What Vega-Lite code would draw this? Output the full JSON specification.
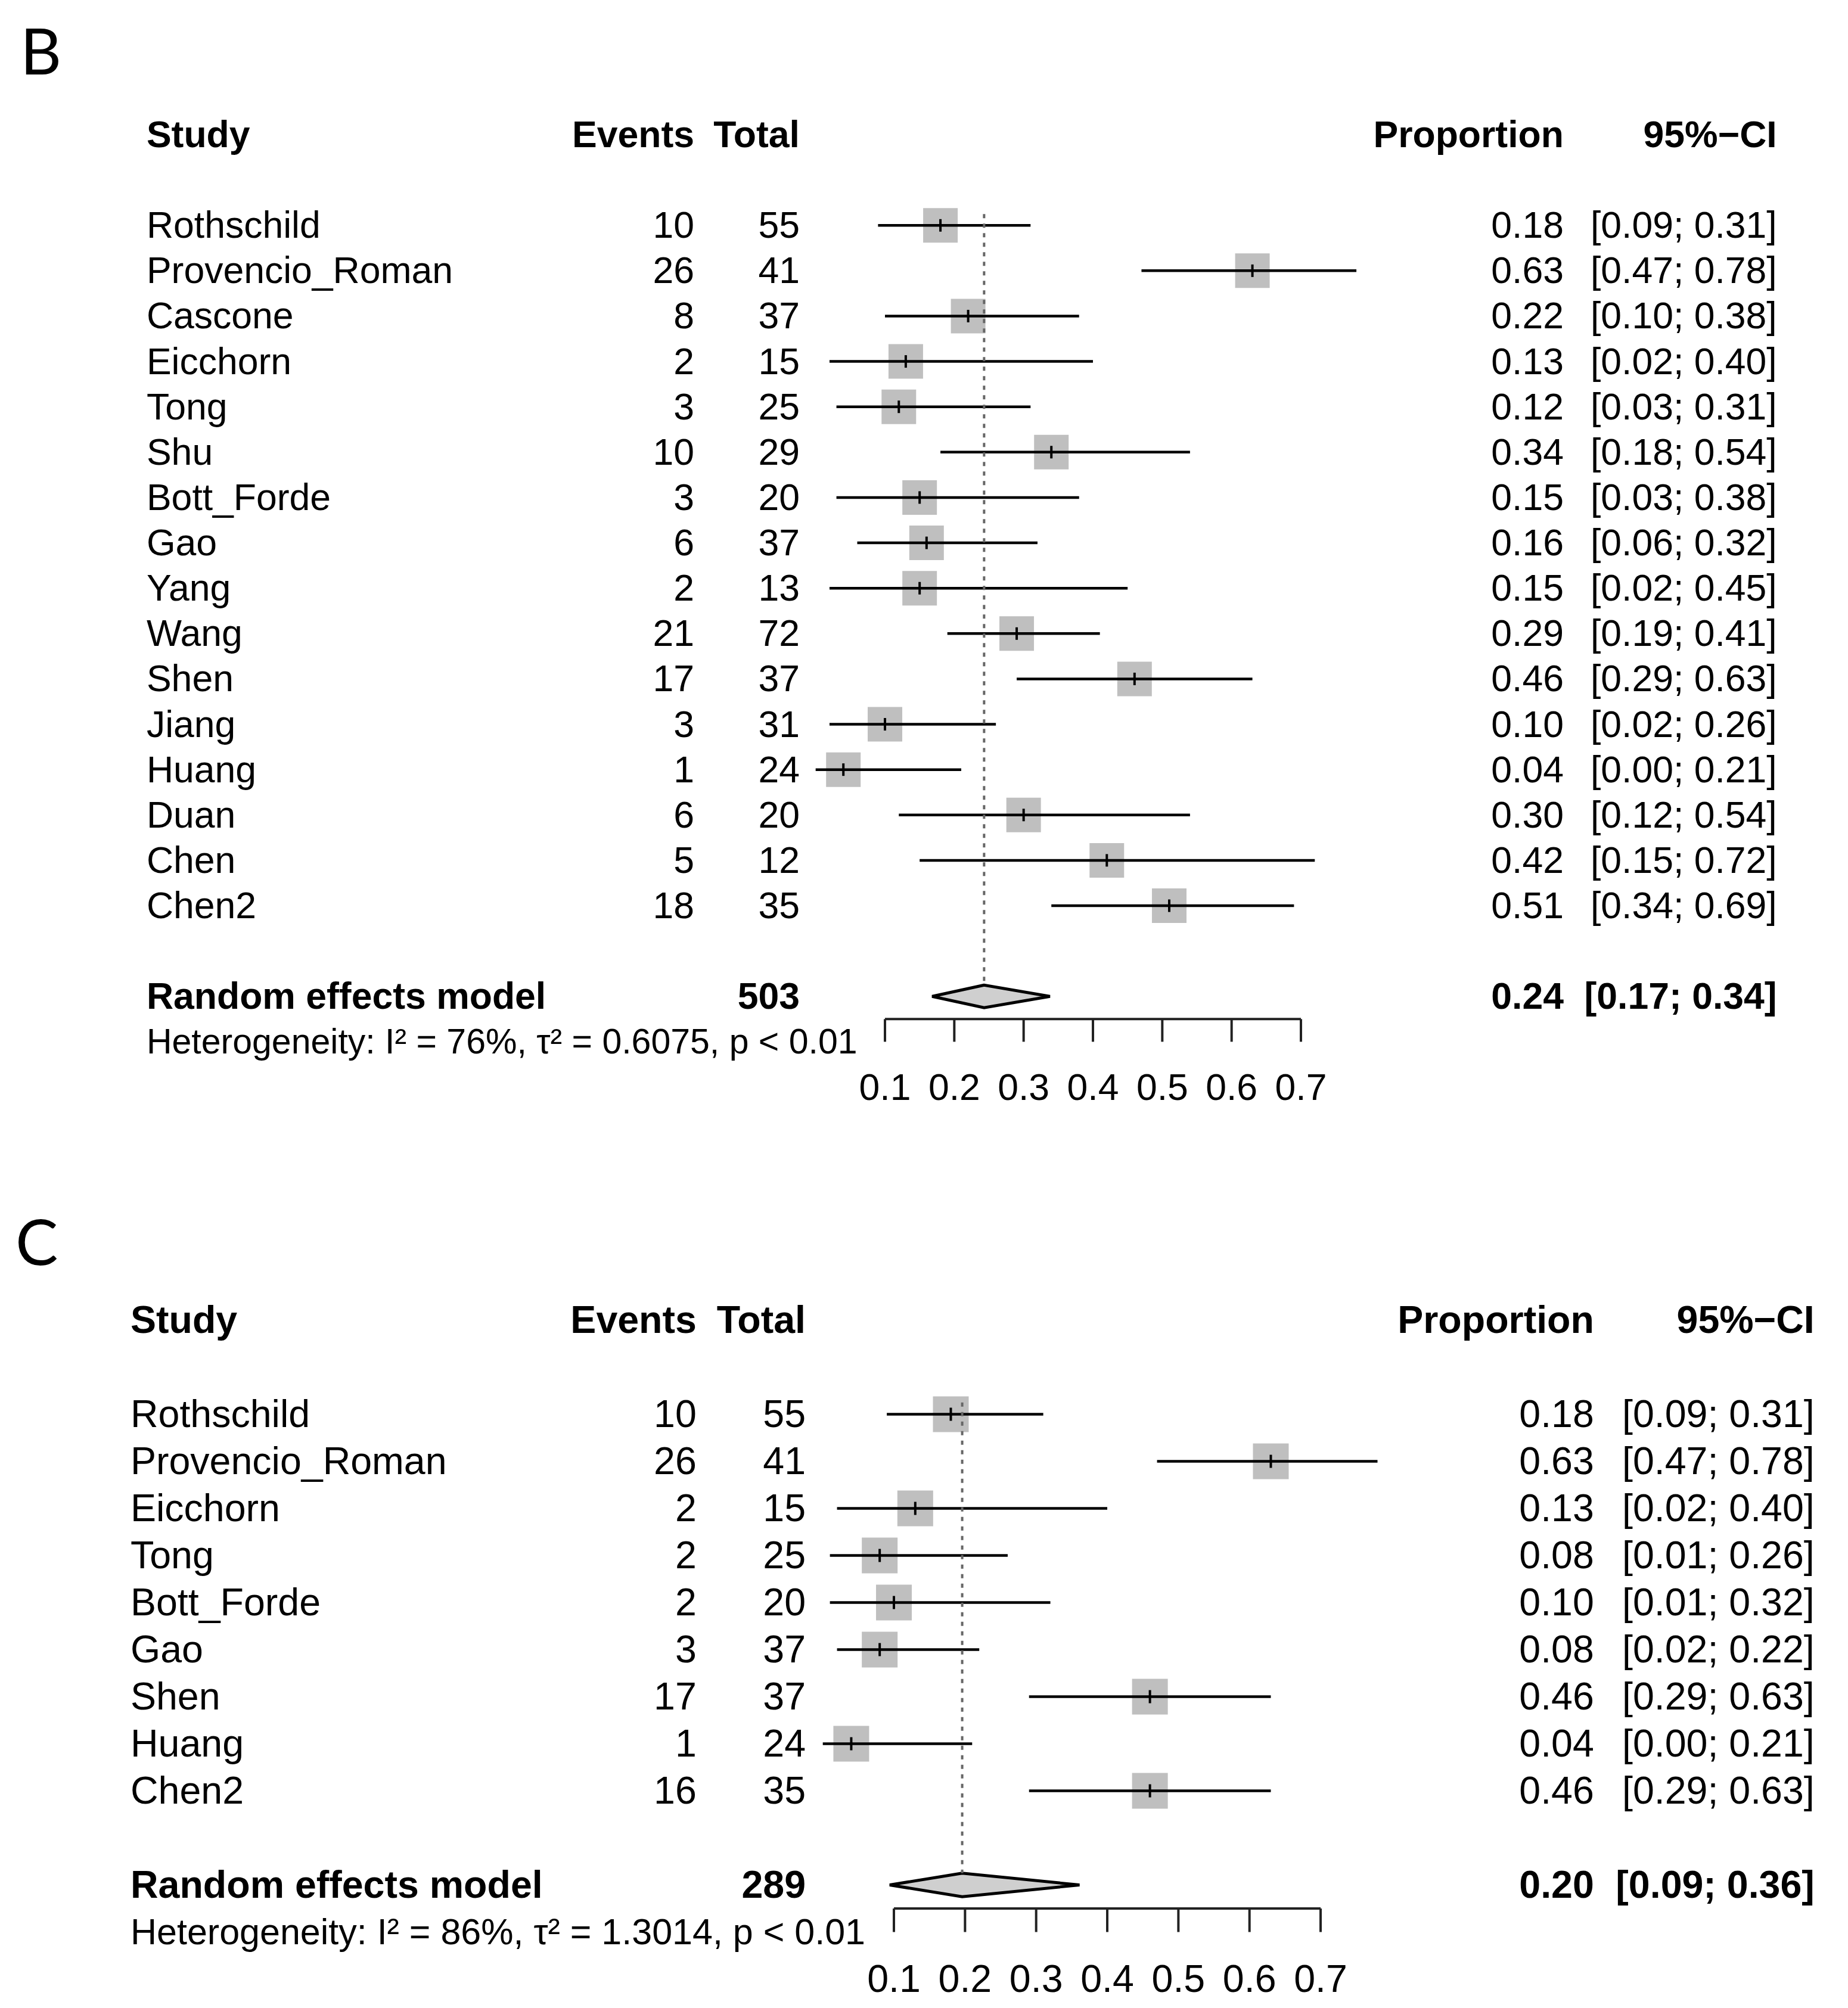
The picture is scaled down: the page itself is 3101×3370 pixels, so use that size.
{
  "$schema": "https://vega.github.io/schema/vega-lite/v6.json",
  "background": "white",
  "padding": 0,
  "spacing": 0,
  "bounds": "flush",
  "config": {"view": {"stroke": null}, "text": {"font": "Liberation Sans", "color": "black"}},
  "datasets": {
    "headers": [{"study": "Study", "events": "Events", "total": "Total", "prop": "Proportion", "ci": "95%−CI"}],
    "ticks": [{"v": 0.1}, {"v": 0.2}, {"v": 0.3}, {"v": 0.4}, {"v": 0.5}, {"v": 0.6}, {"v": 0.7}],
    "B_studies": [
      {"study": "Rothschild", "events": 10, "total": 55, "est": 0.18, "lo": 0.09, "hi": 0.31, "ci": "[0.09; 0.31]"},
      {"study": "Provencio_Roman", "events": 26, "total": 41, "est": 0.63, "lo": 0.47, "hi": 0.78, "ci": "[0.47; 0.78]"},
      {"study": "Cascone", "events": 8, "total": 37, "est": 0.22, "lo": 0.10, "hi": 0.38, "ci": "[0.10; 0.38]"},
      {"study": "Eicchorn", "events": 2, "total": 15, "est": 0.13, "lo": 0.02, "hi": 0.40, "ci": "[0.02; 0.40]"},
      {"study": "Tong", "events": 3, "total": 25, "est": 0.12, "lo": 0.03, "hi": 0.31, "ci": "[0.03; 0.31]"},
      {"study": "Shu", "events": 10, "total": 29, "est": 0.34, "lo": 0.18, "hi": 0.54, "ci": "[0.18; 0.54]"},
      {"study": "Bott_Forde", "events": 3, "total": 20, "est": 0.15, "lo": 0.03, "hi": 0.38, "ci": "[0.03; 0.38]"},
      {"study": "Gao", "events": 6, "total": 37, "est": 0.16, "lo": 0.06, "hi": 0.32, "ci": "[0.06; 0.32]"},
      {"study": "Yang", "events": 2, "total": 13, "est": 0.15, "lo": 0.02, "hi": 0.45, "ci": "[0.02; 0.45]"},
      {"study": "Wang", "events": 21, "total": 72, "est": 0.29, "lo": 0.19, "hi": 0.41, "ci": "[0.19; 0.41]"},
      {"study": "Shen", "events": 17, "total": 37, "est": 0.46, "lo": 0.29, "hi": 0.63, "ci": "[0.29; 0.63]"},
      {"study": "Jiang", "events": 3, "total": 31, "est": 0.10, "lo": 0.02, "hi": 0.26, "ci": "[0.02; 0.26]"},
      {"study": "Huang", "events": 1, "total": 24, "est": 0.04, "lo": 0.00, "hi": 0.21, "ci": "[0.00; 0.21]"},
      {"study": "Duan", "events": 6, "total": 20, "est": 0.30, "lo": 0.12, "hi": 0.54, "ci": "[0.12; 0.54]"},
      {"study": "Chen", "events": 5, "total": 12, "est": 0.42, "lo": 0.15, "hi": 0.72, "ci": "[0.15; 0.72]"},
      {"study": "Chen2", "events": 18, "total": 35, "est": 0.51, "lo": 0.34, "hi": 0.69, "ci": "[0.34; 0.69]"}
    ],
    "B_pool": [{"panel": "B", "label": "Random effects model", "total": 503, "est": 0.243, "lo": 0.168, "hi": 0.338, "ci": "[0.17; 0.34]", "het": "Heterogeneity: I² = 76%, τ² = 0.6075, p < 0.01"}],
    "B_diamond": [{"lev": "dtop", "lo": 0.243, "hi": 0.243}, {"lev": "model", "lo": 0.168, "hi": 0.338}, {"lev": "dbot", "lo": 0.243, "hi": 0.243}],
    "C_studies": [
      {"study": "Rothschild", "events": 10, "total": 55, "est": 0.18, "lo": 0.09, "hi": 0.31, "ci": "[0.09; 0.31]"},
      {"study": "Provencio_Roman", "events": 26, "total": 41, "est": 0.63, "lo": 0.47, "hi": 0.78, "ci": "[0.47; 0.78]"},
      {"study": "Eicchorn", "events": 2, "total": 15, "est": 0.13, "lo": 0.02, "hi": 0.40, "ci": "[0.02; 0.40]"},
      {"study": "Tong", "events": 2, "total": 25, "est": 0.08, "lo": 0.01, "hi": 0.26, "ci": "[0.01; 0.26]"},
      {"study": "Bott_Forde", "events": 2, "total": 20, "est": 0.10, "lo": 0.01, "hi": 0.32, "ci": "[0.01; 0.32]"},
      {"study": "Gao", "events": 3, "total": 37, "est": 0.08, "lo": 0.02, "hi": 0.22, "ci": "[0.02; 0.22]"},
      {"study": "Shen", "events": 17, "total": 37, "est": 0.46, "lo": 0.29, "hi": 0.63, "ci": "[0.29; 0.63]"},
      {"study": "Huang", "events": 1, "total": 24, "est": 0.04, "lo": 0.00, "hi": 0.21, "ci": "[0.00; 0.21]"},
      {"study": "Chen2", "events": 16, "total": 35, "est": 0.46, "lo": 0.29, "hi": 0.63, "ci": "[0.29; 0.63]"}
    ],
    "C_pool": [{"panel": "C", "label": "Random effects model", "total": 289, "est": 0.196, "lo": 0.094, "hi": 0.361, "ci": "[0.09; 0.36]", "het": "Heterogeneity: I² = 86%, τ² = 1.3014, p < 0.01"}],
    "C_diamond": [{"lev": "dtop", "lo": 0.196, "hi": 0.196}, {"lev": "model", "lo": 0.094, "hi": 0.361}, {"lev": "dbot", "lo": 0.196, "hi": 0.196}]
  },
  "vconcat": [
    {
      "width": 3101,
      "height": 1950,
      "layer": [
        {"data": {"name": "B_studies"}, "mark": {"type": "point", "shape": "square", "filled": true, "size": 3364, "color": "#bfbfbf", "opacity": 1, "strokeWidth": 0},
         "encoding": {
           "x": {"field": "est", "type": "quantitative", "axis": null, "scale": {"domain": [-1.1765, 1.4891], "nice": false, "zero": false}},
           "y": {"field": "study", "type": "nominal", "axis": null, "scale": {"type": "point", "padding": 0, "range": [92.8, 1824.5], "domain": ["lab","_1","_2","_3","_4","_5","_6","hdr","_8","_9","_10","_11","_12","_13","vtop","Rothschild","_16","_17","_18","Provencio_Roman","_20","_21","_22","Cascone","_24","_25","_26","Eicchorn","_28","_29","_30","Tong","_32","_33","_34","Shu","_36","_37","_38","Bott_Forde","_40","_41","_42","Gao","_44","_45","_46","Yang","_48","_49","_50","Wang","_52","_53","_54","Shen","_56","_57","_58","Jiang","_60","_61","_62","Huang","_64","_65","_66","Duan","_68","_69","_70","Chen","_72","_73","_74","Chen2","_76","_77","_78","_79","_80","_81","dtop","model","dbot","axis","_86","het","_88","_89","_90","ticklab"]}}
         }},
        {"data": {"name": "B_studies"}, "mark": {"type": "rule", "color": "black", "strokeWidth": 4.5},
         "encoding": {"x": {"field": "lo", "type": "quantitative", "axis": null}, "x2": {"field": "hi"}, "y": {"field": "study", "type": "nominal", "axis": null}}},
        {"data": {"name": "B_studies"}, "mark": {"type": "tick", "color": "black", "size": 21, "thickness": 4, "opacity": 1},
         "encoding": {"x": {"field": "est", "type": "quantitative", "axis": null}, "y": {"field": "study", "type": "nominal", "axis": null}}},
        {"data": {"name": "B_studies"}, "mark": {"type": "text", "align": "left", "baseline": "middle", "fontSize": 62.5, "dy": 2},
         "encoding": {"x": {"datum": -0.9651, "type": "quantitative", "axis": null}, "y": {"field": "study", "type": "nominal", "axis": null}, "text": {"field": "study"}}},
        {"data": {"name": "B_studies"}, "mark": {"type": "text", "align": "right", "baseline": "middle", "fontSize": 62.5, "dy": 2},
         "encoding": {"x": {"datum": -0.1750, "type": "quantitative", "axis": null}, "y": {"field": "study", "type": "nominal", "axis": null}, "text": {"field": "events"}}},
        {"data": {"name": "B_studies"}, "mark": {"type": "text", "align": "right", "baseline": "middle", "fontSize": 62.5, "dy": 2},
         "encoding": {"x": {"datum": -0.0230, "type": "quantitative", "axis": null}, "y": {"field": "study", "type": "nominal", "axis": null}, "text": {"field": "total"}}},
        {"data": {"name": "B_studies"}, "mark": {"type": "text", "align": "right", "baseline": "middle", "fontSize": 62.5, "dy": 2},
         "encoding": {"x": {"datum": 1.0790, "type": "quantitative", "axis": null}, "y": {"field": "study", "type": "nominal", "axis": null}, "text": {"field": "est", "format": ".2f"}}},
        {"data": {"name": "B_studies"}, "mark": {"type": "text", "align": "right", "baseline": "middle", "fontSize": 62.5, "dy": 2},
         "encoding": {"x": {"datum": 1.3865, "type": "quantitative", "axis": null}, "y": {"field": "study", "type": "nominal", "axis": null}, "text": {"field": "ci"}}},
        {"data": {"name": "headers"}, "mark": {"type": "text", "align": "left", "baseline": "middle", "fontSize": 62.5, "fontWeight": "bold", "dy": 2},
         "encoding": {"x": {"datum": -0.9651, "type": "quantitative", "axis": null}, "y": {"datum": "hdr", "type": "nominal", "axis": null}, "text": {"field": "study"}}},
        {"data": {"name": "headers"}, "mark": {"type": "text", "align": "right", "baseline": "middle", "fontSize": 62.5, "fontWeight": "bold", "dy": 2},
         "encoding": {"x": {"datum": -0.1750, "type": "quantitative", "axis": null}, "y": {"datum": "hdr", "type": "nominal", "axis": null}, "text": {"field": "events"}}},
        {"data": {"name": "headers"}, "mark": {"type": "text", "align": "right", "baseline": "middle", "fontSize": 62.5, "fontWeight": "bold", "dy": 2},
         "encoding": {"x": {"datum": -0.0230, "type": "quantitative", "axis": null}, "y": {"datum": "hdr", "type": "nominal", "axis": null}, "text": {"field": "total"}}},
        {"data": {"name": "headers"}, "mark": {"type": "text", "align": "right", "baseline": "middle", "fontSize": 62.5, "fontWeight": "bold", "dy": 2},
         "encoding": {"x": {"datum": 1.0790, "type": "quantitative", "axis": null}, "y": {"datum": "hdr", "type": "nominal", "axis": null}, "text": {"field": "prop"}}},
        {"data": {"name": "headers"}, "mark": {"type": "text", "align": "right", "baseline": "middle", "fontSize": 62.5, "fontWeight": "bold", "dy": 2},
         "encoding": {"x": {"datum": 1.3865, "type": "quantitative", "axis": null}, "y": {"datum": "hdr", "type": "nominal", "axis": null}, "text": {"field": "ci"}}},
        {"data": {"name": "B_pool"}, "mark": {"type": "text", "align": "left", "baseline": "middle", "fontSize": 107, "font": "Lato"},
         "encoding": {"x": {"datum": -1.1473, "type": "quantitative", "axis": null}, "y": {"datum": "lab", "type": "nominal", "axis": null}, "text": {"field": "panel"}}},
        {"data": {"name": "B_pool"}, "mark": {"type": "text", "align": "left", "baseline": "middle", "fontSize": 62.5, "fontWeight": "bold", "dy": 2},
         "encoding": {"x": {"datum": -0.9651, "type": "quantitative", "axis": null}, "y": {"datum": "model", "type": "nominal", "axis": null}, "text": {"field": "label"}}},
        {"data": {"name": "B_pool"}, "mark": {"type": "text", "align": "right", "baseline": "middle", "fontSize": 62.5, "fontWeight": "bold", "dy": 2},
         "encoding": {"x": {"datum": -0.0230, "type": "quantitative", "axis": null}, "y": {"datum": "model", "type": "nominal", "axis": null}, "text": {"field": "total"}}},
        {"data": {"name": "B_pool"}, "mark": {"type": "text", "align": "right", "baseline": "middle", "fontSize": 62.5, "fontWeight": "bold", "dy": 2},
         "encoding": {"x": {"datum": 1.0790, "type": "quantitative", "axis": null}, "y": {"datum": "model", "type": "nominal", "axis": null}, "text": {"field": "est", "format": ".2f"}}},
        {"data": {"name": "B_pool"}, "mark": {"type": "text", "align": "right", "baseline": "middle", "fontSize": 62.5, "fontWeight": "bold", "dy": 2},
         "encoding": {"x": {"datum": 1.3865, "type": "quantitative", "axis": null}, "y": {"datum": "model", "type": "nominal", "axis": null}, "text": {"field": "ci"}}},
        {"data": {"name": "B_pool"}, "mark": {"type": "text", "align": "left", "baseline": "middle", "fontSize": 59, "dy": 2},
         "encoding": {"x": {"datum": -0.9651, "type": "quantitative", "axis": null}, "y": {"datum": "het", "type": "nominal", "axis": null}, "text": {"field": "het"}}},
        {"data": {"name": "B_diamond"}, "mark": {"type": "area", "orient": "horizontal", "fill": "#cfcfcf", "stroke": "black", "strokeWidth": 5, "opacity": 1},
         "encoding": {"x": {"field": "lo", "type": "quantitative", "axis": null}, "x2": {"field": "hi"}, "y": {"field": "lev", "type": "nominal", "axis": null}, "order": {"value": null}}},
        {"data": {"name": "B_pool"}, "mark": {"type": "rule", "color": "#666666", "strokeWidth": 4, "strokeDash": [7, 9]},
         "encoding": {"x": {"field": "est", "type": "quantitative", "axis": null}, "y": {"datum": "vtop", "type": "nominal", "axis": null}, "y2": {"datum": "dtop"}}},
        {"data": {"name": "ticks"}, "mark": {"type": "rule", "color": "#222222", "strokeWidth": 4},
         "encoding": {"x": {"aggregate": "min", "field": "v", "type": "quantitative", "axis": null}, "x2": {"aggregate": "max", "field": "v"}, "y": {"datum": "axis", "type": "nominal", "axis": null}}},
        {"data": {"name": "ticks"}, "mark": {"type": "rule", "color": "#222222", "strokeWidth": 4},
         "encoding": {"x": {"field": "v", "type": "quantitative", "axis": null}, "y": {"datum": "axis", "type": "nominal", "axis": null}, "y2": {"datum": "het"}}},
        {"data": {"name": "ticks"}, "mark": {"type": "text", "align": "center", "baseline": "middle", "fontSize": 62.5, "dy": 2},
         "encoding": {"x": {"field": "v", "type": "quantitative", "axis": null}, "y": {"datum": "ticklab", "type": "nominal", "axis": null}, "text": {"field": "v", "format": ".1f"}}}
      ]
    },
    {
      "width": 3101,
      "height": 1420,
      "layer": [
        {"data": {"name": "C_studies"}, "mark": {"type": "point", "shape": "square", "filled": true, "size": 3600, "color": "#bfbfbf", "opacity": 1, "strokeWidth": 0},
         "encoding": {
           "x": {"field": "est", "type": "quantitative", "axis": null, "scale": {"domain": [-1.1570, 1.4416], "nice": false, "zero": false}},
           "y": {"field": "study", "type": "nominal", "axis": null, "scale": {"type": "point", "padding": 0, "range": [127.25, 1371.5], "domain": ["lab","_1","_2","_3","_4","_5","_6","hdr","_8","_9","_10","_11","_12","_13","vtop","Rothschild","_16","_17","_18","Provencio_Roman","_20","_21","_22","Eicchorn","_24","_25","_26","Tong","_28","_29","_30","Bott_Forde","_32","_33","_34","Gao","_36","_37","_38","Shen","_40","_41","_42","Huang","_44","_45","_46","Chen2","_48","_49","_50","_51","_52","_53","dtop","model","dbot","axis","_58","het","_60","_61","_62","ticklab"]}}
         }},
        {"data": {"name": "C_studies"}, "mark": {"type": "rule", "color": "black", "strokeWidth": 4.5},
         "encoding": {"x": {"field": "lo", "type": "quantitative", "axis": null}, "x2": {"field": "hi"}, "y": {"field": "study", "type": "nominal", "axis": null}}},
        {"data": {"name": "C_studies"}, "mark": {"type": "tick", "color": "black", "size": 22, "thickness": 4, "opacity": 1},
         "encoding": {"x": {"field": "est", "type": "quantitative", "axis": null}, "y": {"field": "study", "type": "nominal", "axis": null}}},
        {"data": {"name": "C_studies"}, "mark": {"type": "text", "align": "left", "baseline": "middle", "fontSize": 64.5, "dy": 2},
         "encoding": {"x": {"datum": -0.9735, "type": "quantitative", "axis": null}, "y": {"field": "study", "type": "nominal", "axis": null}, "text": {"field": "study"}}},
        {"data": {"name": "C_studies"}, "mark": {"type": "text", "align": "right", "baseline": "middle", "fontSize": 64.5, "dy": 2},
         "encoding": {"x": {"datum": -0.1775, "type": "quantitative", "axis": null}, "y": {"field": "study", "type": "nominal", "axis": null}, "text": {"field": "events"}}},
        {"data": {"name": "C_studies"}, "mark": {"type": "text", "align": "right", "baseline": "middle", "fontSize": 64.5, "dy": 2},
         "encoding": {"x": {"datum": -0.0240, "type": "quantitative", "axis": null}, "y": {"field": "study", "type": "nominal", "axis": null}, "text": {"field": "total"}}},
        {"data": {"name": "C_studies"}, "mark": {"type": "text", "align": "right", "baseline": "middle", "fontSize": 64.5, "dy": 2},
         "encoding": {"x": {"datum": 1.0845, "type": "quantitative", "axis": null}, "y": {"field": "study", "type": "nominal", "axis": null}, "text": {"field": "est", "format": ".2f"}}},
        {"data": {"name": "C_studies"}, "mark": {"type": "text", "align": "right", "baseline": "middle", "fontSize": 64.5, "dy": 2},
         "encoding": {"x": {"datum": 1.3945, "type": "quantitative", "axis": null}, "y": {"field": "study", "type": "nominal", "axis": null}, "text": {"field": "ci"}}},
        {"data": {"name": "headers"}, "mark": {"type": "text", "align": "left", "baseline": "middle", "fontSize": 64.5, "fontWeight": "bold", "dy": 2},
         "encoding": {"x": {"datum": -0.9735, "type": "quantitative", "axis": null}, "y": {"datum": "hdr", "type": "nominal", "axis": null}, "text": {"field": "study"}}},
        {"data": {"name": "headers"}, "mark": {"type": "text", "align": "right", "baseline": "middle", "fontSize": 64.5, "fontWeight": "bold", "dy": 2},
         "encoding": {"x": {"datum": -0.1775, "type": "quantitative", "axis": null}, "y": {"datum": "hdr", "type": "nominal", "axis": null}, "text": {"field": "events"}}},
        {"data": {"name": "headers"}, "mark": {"type": "text", "align": "right", "baseline": "middle", "fontSize": 64.5, "fontWeight": "bold", "dy": 2},
         "encoding": {"x": {"datum": -0.0240, "type": "quantitative", "axis": null}, "y": {"datum": "hdr", "type": "nominal", "axis": null}, "text": {"field": "total"}}},
        {"data": {"name": "headers"}, "mark": {"type": "text", "align": "right", "baseline": "middle", "fontSize": 64.5, "fontWeight": "bold", "dy": 2},
         "encoding": {"x": {"datum": 1.0845, "type": "quantitative", "axis": null}, "y": {"datum": "hdr", "type": "nominal", "axis": null}, "text": {"field": "prop"}}},
        {"data": {"name": "headers"}, "mark": {"type": "text", "align": "right", "baseline": "middle", "fontSize": 64.5, "fontWeight": "bold", "dy": 2},
         "encoding": {"x": {"datum": 1.3945, "type": "quantitative", "axis": null}, "y": {"datum": "hdr", "type": "nominal", "axis": null}, "text": {"field": "ci"}}},
        {"data": {"name": "C_pool"}, "mark": {"type": "text", "align": "left", "baseline": "middle", "fontSize": 107, "font": "Lato", "dy": 14},
         "encoding": {"x": {"datum": -1.1352, "type": "quantitative", "axis": null}, "y": {"datum": "lab", "type": "nominal", "axis": null}, "text": {"field": "panel"}}},
        {"data": {"name": "C_pool"}, "mark": {"type": "text", "align": "left", "baseline": "middle", "fontSize": 64.5, "fontWeight": "bold", "dy": 2},
         "encoding": {"x": {"datum": -0.9735, "type": "quantitative", "axis": null}, "y": {"datum": "model", "type": "nominal", "axis": null}, "text": {"field": "label"}}},
        {"data": {"name": "C_pool"}, "mark": {"type": "text", "align": "right", "baseline": "middle", "fontSize": 64.5, "fontWeight": "bold", "dy": 2},
         "encoding": {"x": {"datum": -0.0240, "type": "quantitative", "axis": null}, "y": {"datum": "model", "type": "nominal", "axis": null}, "text": {"field": "total"}}},
        {"data": {"name": "C_pool"}, "mark": {"type": "text", "align": "right", "baseline": "middle", "fontSize": 64.5, "fontWeight": "bold", "dy": 2},
         "encoding": {"x": {"datum": 1.0845, "type": "quantitative", "axis": null}, "y": {"datum": "model", "type": "nominal", "axis": null}, "text": {"field": "est", "format": ".2f"}}},
        {"data": {"name": "C_pool"}, "mark": {"type": "text", "align": "right", "baseline": "middle", "fontSize": 64.5, "fontWeight": "bold", "dy": 2},
         "encoding": {"x": {"datum": 1.3945, "type": "quantitative", "axis": null}, "y": {"datum": "model", "type": "nominal", "axis": null}, "text": {"field": "ci"}}},
        {"data": {"name": "C_pool"}, "mark": {"type": "text", "align": "left", "baseline": "middle", "fontSize": 61, "dy": 2},
         "encoding": {"x": {"datum": -0.9735, "type": "quantitative", "axis": null}, "y": {"datum": "het", "type": "nominal", "axis": null}, "text": {"field": "het"}}},
        {"data": {"name": "C_diamond"}, "mark": {"type": "area", "orient": "horizontal", "fill": "#cfcfcf", "stroke": "black", "strokeWidth": 5, "opacity": 1},
         "encoding": {"x": {"field": "lo", "type": "quantitative", "axis": null}, "x2": {"field": "hi"}, "y": {"field": "lev", "type": "nominal", "axis": null}, "order": {"value": null}}},
        {"data": {"name": "C_pool"}, "mark": {"type": "rule", "color": "#666666", "strokeWidth": 4, "strokeDash": [7, 9]},
         "encoding": {"x": {"field": "est", "type": "quantitative", "axis": null}, "y": {"datum": "vtop", "type": "nominal", "axis": null}, "y2": {"datum": "dtop"}}},
        {"data": {"name": "ticks"}, "mark": {"type": "rule", "color": "#222222", "strokeWidth": 4},
         "encoding": {"x": {"aggregate": "min", "field": "v", "type": "quantitative", "axis": null}, "x2": {"aggregate": "max", "field": "v"}, "y": {"datum": "axis", "type": "nominal", "axis": null}}},
        {"data": {"name": "ticks"}, "mark": {"type": "rule", "color": "#222222", "strokeWidth": 4},
         "encoding": {"x": {"field": "v", "type": "quantitative", "axis": null}, "y": {"datum": "axis", "type": "nominal", "axis": null}, "y2": {"datum": "het"}}},
        {"data": {"name": "ticks"}, "mark": {"type": "text", "align": "center", "baseline": "middle", "fontSize": 64.5, "dy": 2},
         "encoding": {"x": {"field": "v", "type": "quantitative", "axis": null}, "y": {"datum": "ticklab", "type": "nominal", "axis": null}, "text": {"field": "v", "format": ".1f"}}}
      ]
    }
  ]
}
